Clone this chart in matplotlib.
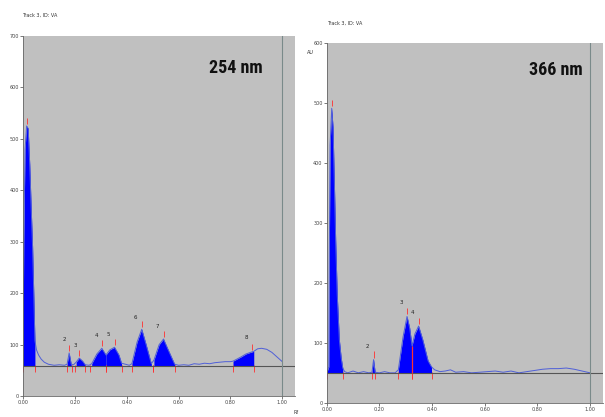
import numpy as np
import matplotlib
matplotlib.use('Agg')
import matplotlib.pyplot as plt

# ---- 254 nm trace (Rf, AU)
rf_254 = [0.000, 0.003, 0.008, 0.014, 0.020, 0.026, 0.032, 0.037, 0.042, 0.046,
          0.052, 0.060, 0.070, 0.082, 0.098, 0.120, 0.140, 0.160, 0.170, 0.178,
          0.186, 0.195, 0.205, 0.217, 0.230, 0.240, 0.255, 0.265, 0.285, 0.304,
          0.320, 0.335, 0.353, 0.370, 0.380, 0.395, 0.410, 0.420, 0.440, 0.458,
          0.475, 0.495, 0.505, 0.525, 0.542, 0.560, 0.585, 0.600, 0.620, 0.640,
          0.660, 0.680, 0.700, 0.720, 0.740, 0.760, 0.780, 0.800, 0.810, 0.840,
          0.860, 0.883, 0.890, 0.905, 0.920, 0.940, 0.960, 0.980, 1.000]
au_254 = [60, 300, 480, 525, 520, 450, 360, 290, 190, 108,
          90, 80, 72, 66, 62, 60, 61, 60, 62, 84,
          62, 61, 66, 74, 68, 61, 60, 63, 82, 93,
          80, 90, 95, 80, 64, 62, 60, 63, 105, 130,
          100, 63, 70, 100, 111, 90, 62, 60, 61, 60,
          63, 62, 64, 63, 65, 66, 67, 67, 68, 76,
          82, 86, 87, 92, 93, 91, 85, 76, 67]
base_254 = 58
win_254 = [(0.0, 0.046), (0.168, 0.188), (0.20, 0.24), (0.26, 0.32), (0.32, 0.38),
           (0.42, 0.50), (0.50, 0.585), (0.81, 0.89)]
peak_rf_254 = [0.014, 0.178, 0.217, 0.304, 0.353, 0.458, 0.542, 0.883]
peak_au_254 = [525, 84, 74, 93, 95, 130, 111, 86]
lab_254 = ['', '2', '3', '4', '5', '6', '7', '8']
lab_pos_254 = [(0.0, 0), (0.16, 111), (0.20, 99), (0.285, 118), (0.33, 119),
               (0.435, 153), (0.519, 136), (0.86, 113)]

# ---- 366 nm trace
rf_366 = [0.000, 0.008, 0.010, 0.013, 0.019, 0.024, 0.030, 0.034, 0.040, 0.048,
          0.055, 0.061, 0.068, 0.080, 0.100, 0.120, 0.140, 0.160, 0.172, 0.178,
          0.184, 0.200, 0.220, 0.240, 0.260, 0.272, 0.290, 0.305, 0.315, 0.324,
          0.335, 0.349, 0.365, 0.385, 0.398, 0.410, 0.430, 0.450, 0.470, 0.490,
          0.520, 0.550, 0.580, 0.610, 0.640, 0.670, 0.700, 0.730, 0.760, 0.790,
          0.820, 0.850, 0.880, 0.910, 0.940, 0.970, 1.000]
au_366 = [50, 60, 250, 430, 491, 460, 350, 272, 180, 105,
          75, 58, 52, 50, 53, 50, 52, 50, 51, 72,
          51, 50, 52, 50, 50, 55, 110, 144, 125, 95,
          115, 128, 105, 70, 60, 55, 52, 53, 55, 51,
          52, 50, 51, 52, 53, 51, 53, 50, 52, 54,
          56, 57, 57, 58, 56, 53, 50]
base_366 = 50
win_366 = [(0.0, 0.061), (0.172, 0.184), (0.272, 0.324), (0.324, 0.398)]
peak_rf_366 = [0.019, 0.178, 0.305, 0.349]
peak_au_366 = [491, 72, 144, 128]
lab_366 = ['', '2', '3', '4']
lab_pos_366 = [(0.0, 0), (0.156, 94), (0.283, 168), (0.326, 150)]

fig = plt.figure(figsize=(6.05, 4.17), dpi=100)
ax1 = fig.add_axes([0.038, 0.050, 0.450, 0.864])
ax2 = fig.add_axes([0.540, 0.034, 0.457, 0.863])

gray = '#c0c0c0'


def draw(ax, rf, au, base, wins, prf, pau, labs, lpos, ymax, tag, tagpos, scale):
    rf = np.array(rf)
    au = np.array(au)
    ax.set_facecolor(gray)
    for a, b in wins:
        m = (rf >= a - 1e-9) & (rf <= b + 1e-9)
        ax.fill_between(rf[m], base, au[m], color='#0000ff', lw=0)
        ax.vlines([a, b], base - 12 * scale, base + 2, color='#ff3030', lw=0.6)
    ax.plot(rf, au, color='#4f5fd8', lw=0.7)
    ax.axhline(base, color='#555555', lw=0.8)
    ax.axvline(1.0, color='#7a8a8a', lw=0.8)
    ax.vlines(prf, np.array(pau) + 4 * scale, np.array(pau) + 16 * scale,
              color='#ff3030', lw=0.6)
    for t, (x, y) in zip(labs, lpos):
        if t:
            ax.text(x, y, t, fontsize=4, color='#222222', ha='center', va='center')
    ax.set_xlim(0, 1.05)
    ax.set_ylim(0, ymax)
    ax.set_xticks([0, 0.2, 0.4, 0.6, 0.8, 1.0])
    ax.set_xticklabels(['0.00', '0.20', '0.40', '0.60', '0.80', '1.00'])
    ax.set_yticks(np.arange(0, ymax + 1, 100))
    ax.tick_params(labelsize=3.5, length=2, width=0.5, colors='#444444', pad=1)
    for s in ['top', 'right']:
        ax.spines[s].set_visible(False)
    for s in ['left', 'bottom']:
        ax.spines[s].set_color('#666666')
        ax.spines[s].set_linewidth(0.6)
    ax.text(tagpos[0], tagpos[1], tag, transform=ax.transAxes, ha='center', va='center',
            fontsize=13, fontweight='bold',
            family=['Roboto Condensed', 'Roboto', 'DejaVu Sans'], color='#111111')


draw(ax1, rf_254, au_254, base_254, win_254, peak_rf_254, peak_au_254,
     lab_254, lab_pos_254, 700, '254 nm', (0.78, 0.912), 1.0)
draw(ax2, rf_366, au_366, base_366, win_366, peak_rf_366, peak_au_366,
     lab_366, lab_pos_366, 600, '366 nm', (0.83, 0.924), 0.86)
ax2.vlines([0.324], base_366, 95, color='#ff3030', lw=0.9)

fig.text(22 / 605, 1 - 15 / 417, 'Track 3, ID: VA', fontsize=3.5, color='#333333', va='center')
fig.text(327 / 605, 1 - 23 / 417, 'Track 3, ID: VA', fontsize=3.5, color='#333333', va='center')
fig.text(307 / 605, 1 - 52 / 417, 'AU', fontsize=3.5, color='#333333', va='center')
fig.text(293 / 605, 1 - 412 / 417, 'Rf', fontsize=3.5, color='#333333', va='center')

fig.savefig('out.png', dpi=100)
